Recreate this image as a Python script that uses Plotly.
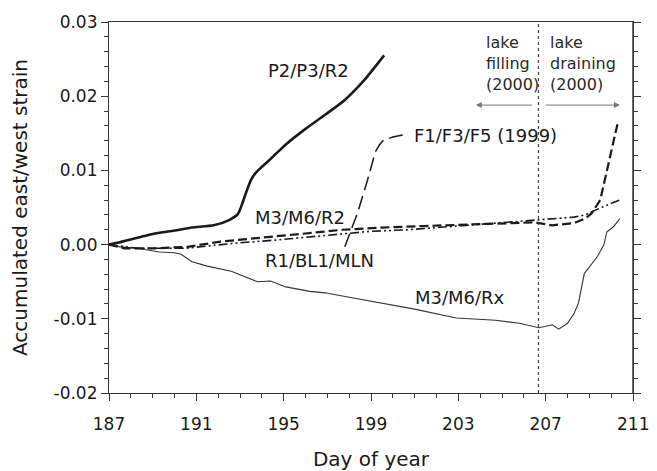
import plotly.graph_objects as go

# ---- data ----
p2_days = [187, 187.3, 187.6, 188.0, 188.4, 189.1, 190.0, 190.8, 191.8, 192.5, 192.9,
           193.1, 193.3, 193.5, 193.7, 193.9, 194.2, 194.6, 195.1, 196.0, 196.9, 197.8, 198.7, 199.6]
p2_vals = [0, 0.0002, 0.0004, 0.0007, 0.0010, 0.0015, 0.0019, 0.0023, 0.0026, 0.0033, 0.0041,
           0.0055, 0.0072, 0.0087, 0.0096, 0.0102, 0.0110, 0.0121, 0.0135, 0.0156, 0.0175,
           0.0195, 0.0222, 0.0255]

rx_days = [187, 187.5, 188.3, 189.3, 190.0, 190.3, 190.8, 191.5, 192.6, 193.8, 194.4, 195.1,
           196.2, 196.9, 198.0, 199.6, 201.0, 202.9, 204.7, 205.8, 206.7, 207.3, 207.6, 208.0,
           208.3, 208.5, 208.77, 208.9, 209.37, 209.67, 209.8, 210.1, 210.4]
rx_vals = [0, -0.0003, -0.0005, -0.0010, -0.0011, -0.0013, -0.0023, -0.0029, -0.0036, -0.0050,
           -0.0049, -0.0057, -0.0063, -0.0065, -0.0071, -0.0079, -0.0087, -0.0099, -0.0102,
           -0.0106, -0.0112, -0.0108, -0.0114, -0.0106, -0.0093, -0.0079, -0.0039, -0.0034,
           -0.0016, 0.0000, 0.0017, 0.0024, 0.0035]

r2_days = [187, 187.7, 189.1, 190.6, 192.1, 193.6, 194.8, 196.0, 197.7, 199.5, 201.4, 203.0,
           204.4, 205.5, 206.5, 207.3, 208.3, 208.8, 209.1, 209.5, 209.7, 210.0, 210.1, 210.3]
r2_vals = [0, -0.0005, -0.0005, -0.0003, 0.0004, 0.0008, 0.0011, 0.0015, 0.0020, 0.0023, 0.0025,
           0.0027, 0.0028, 0.0029, 0.0030, 0.0026, 0.0029, 0.0035, 0.0042, 0.0060, 0.0087,
           0.0123, 0.0140, 0.0164]

bl_days = [187, 188.3, 190.5, 192.8, 194.6, 196.0, 197.7, 199.0, 200.7, 202.5, 204.5, 206.4,
           207.5, 208.3, 208.8, 209.1, 209.7, 210.4]
bl_vals = [0, -0.0005, -0.0005, 0.0002, 0.0006, 0.0010, 0.0015, 0.0018, 0.0020, 0.0024, 0.0028,
           0.0033, 0.0035, 0.0037, 0.0040, 0.0044, 0.0052, 0.0060]

f_days = [197.8, 198.1, 198.4, 198.85, 199.2, 199.4, 199.55, 200.0, 200.5]
f_vals = [-0.0003, 0.0022, 0.0044, 0.0088, 0.0125, 0.0135, 0.0140, 0.0145, 0.0148]

lake_peak_day = 206.67
arrow_level = 0.0188
fill_arrow_end = 203.8
drain_arrow_end = 210.4

x_ticks = [187, 191, 195, 199, 203, 207, 211]
x_tick_text = ["187", "191", "195", "199", "203", "207", ""]
last_x_label = "211"
y_ticks = [-0.02, -0.01, 0.0, 0.01, 0.02, 0.03]
y_tick_text = ["-0.02", "-0.01", "0.00", "0.01", "0.02", "0.03"]

FONT = "DejaVu Sans"
INK = "#1a1a1a"

fig = go.Figure()
fig.add_trace(go.Scatter(x=p2_days, y=p2_vals, mode="lines", line=dict(color=INK, width=2.6, shape="spline", smoothing=0.6), showlegend=False))
fig.add_trace(go.Scatter(x=rx_days, y=rx_vals, mode="lines", line=dict(color="#333", width=1.1), showlegend=False))
fig.add_trace(go.Scatter(x=r2_days, y=r2_vals, mode="lines",
                         line=dict(color=INK, width=2.2, dash="9px,4px"), showlegend=False))
fig.add_trace(go.Scatter(x=bl_days, y=bl_vals, mode="lines",
                         line=dict(color=INK, width=1.6, dash="9px,3px,2px,3px,2px,3px"), showlegend=False))
fig.add_trace(go.Scatter(x=f_days, y=f_vals, mode="lines",
                         line=dict(color=INK, width=1.5, dash="14px,6px"), showlegend=False))

fig.add_shape(type="line", xref="x", yref="paper", x0=lake_peak_day, x1=lake_peak_day, y0=0, y1=1,
              line=dict(color="#444", width=1.2, dash="dot"))
# right-hand frame edge
fig.add_shape(type="line", xref="x", yref="paper", x0=x_ticks[-1], x1=x_ticks[-1], y0=0, y1=1,
              line=dict(color="#333", width=1.4), layer="above")

ann_font = dict(family=FONT, size=18, color=INK)
labels = [
    ("P2/P3/R2", 196.12, 0.0234, "center"),
    ("F1/F3/F5 (1999)", 200.89, 0.01476, "left"),
    ("M3/M6/R2", 195.76, 0.0037, "center"),
    ("R1/BL1/MLN", 196.62, -0.0021, "center"),
    ("M3/M6/Rx", 203.07, -0.00713, "center"),
]
for txt, x, y, anc in labels:
    fig.add_annotation(x=x, y=y, text=txt, showarrow=False, xanchor=anc, yanchor="middle", font=ann_font)

lake_font = dict(family=FONT, size=16, color="#2a2a2a")
fig.add_annotation(x=204.17, y=0.02447, text="lake<br>filling<br>(2000)", showarrow=False,
                   xanchor="left", yanchor="middle", align="left", font=lake_font)
fig.add_annotation(x=207.12, y=0.02447, text="lake<br>draining<br>(2000)", showarrow=False,
                   xanchor="left", yanchor="middle", align="left", font=lake_font)

fig.add_annotation(x=fill_arrow_end, y=arrow_level, ax=lake_peak_day - 0.22, ay=arrow_level,
                   xref="x", yref="y", axref="x", ayref="y", text="", showarrow=True,
                   arrowhead=2, arrowsize=1.2, arrowwidth=1, arrowcolor="#777")
fig.add_annotation(x=drain_arrow_end, y=arrow_level, ax=lake_peak_day + 0.27, ay=arrow_level,
                   xref="x", yref="y", axref="x", ayref="y", text="", showarrow=True,
                   arrowhead=2, arrowsize=1.2, arrowwidth=1, arrowcolor="#777")

# last tick label at the right edge
fig.add_annotation(x=x_ticks[-1], y=0, xref="x", yref="paper", text=last_x_label, showarrow=False,
                   xanchor="center", yanchor="top", yshift=-19,
                   font=dict(family=FONT, size=17, color=INK))

fig.update_layout(
    width=657, height=471,
    margin=dict(l=109, r=24, t=22, b=78, autoexpand=False),
    plot_bgcolor="white", paper_bgcolor="white",
    font=dict(family=FONT, size=17, color=INK),
    xaxis=dict(range=[187, 211], tickvals=x_ticks, ticktext=x_tick_text, ticks="outside",
               ticklen=7, tickwidth=1, ticklabelstandoff=8,
               tickcolor="#333", showline=True, linecolor="#333", linewidth=1.2, mirror=True,
               showgrid=False, zeroline=False, automargin=False,
               minor=dict(dtick=1, ticks="outside", ticklen=4, tickcolor="#333"),
               title=dict(text="Day of year", font=dict(family=FONT, size=20), standoff=32),
               tickfont=dict(size=17)),
    yaxis=dict(range=[-0.02, 0.03], tickvals=y_ticks, ticktext=y_tick_text, ticks="outside",
               ticklen=7, tickwidth=1, tickcolor="#333", showline=True, linecolor="#333",
               linewidth=1.2, mirror="allticks", showgrid=False, zeroline=False, automargin=False,
               minor=dict(dtick=0.002, ticks="outside", ticklen=4, tickcolor="#333"),
               title=dict(text="Accumulated east/west strain", font=dict(family=FONT, size=20), standoff=20),
               tickfont=dict(size=17)),
)

fig.write_html("out.html")
